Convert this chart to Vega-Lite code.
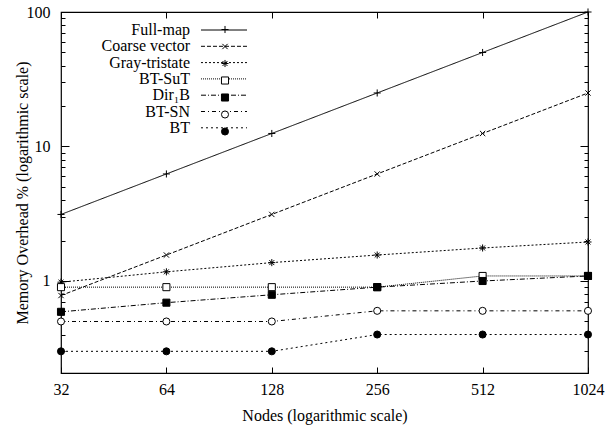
{
  "$schema": "https://vega.github.io/schema/vega-lite/v6.json",
  "width": 527,
  "height": 361,
  "autosize": "none",
  "padding": {"left": 61, "top": 12, "right": 22, "bottom": 55},
  "background": "white",
  "config": {
    "view": {"stroke": "black", "strokeWidth": 1.2},
    "font": "Liberation Serif",
    "axis": {
      "domain": false,
      "grid": false,
      "tickColor": "black",
      "tickWidth": 1,
      "labelFont": "Liberation Serif",
      "labelFontSize": 16,
      "labelColor": "black",
      "labelFlush": false,
      "labelOverlap": false,
      "labelBound": false,
      "titleFont": "Liberation Serif",
      "titleFontSize": 16,
      "titleFontWeight": "normal",
      "titleColor": "black"
    }
  },
  "data": {
    "values": [
      {"nodes": 32, "series": "Full-map", "value": 3.125},
      {"nodes": 64, "series": "Full-map", "value": 6.25},
      {"nodes": 128, "series": "Full-map", "value": 12.5},
      {"nodes": 256, "series": "Full-map", "value": 25},
      {"nodes": 512, "series": "Full-map", "value": 50},
      {"nodes": 1024, "series": "Full-map", "value": 100},
      {"nodes": 32, "series": "Coarse vector", "value": 0.78},
      {"nodes": 64, "series": "Coarse vector", "value": 1.56},
      {"nodes": 128, "series": "Coarse vector", "value": 3.125},
      {"nodes": 256, "series": "Coarse vector", "value": 6.25},
      {"nodes": 512, "series": "Coarse vector", "value": 12.5},
      {"nodes": 1024, "series": "Coarse vector", "value": 25},
      {"nodes": 32, "series": "Gray-tristate", "value": 0.98},
      {"nodes": 64, "series": "Gray-tristate", "value": 1.17},
      {"nodes": 128, "series": "Gray-tristate", "value": 1.37},
      {"nodes": 256, "series": "Gray-tristate", "value": 1.56},
      {"nodes": 512, "series": "Gray-tristate", "value": 1.76},
      {"nodes": 1024, "series": "Gray-tristate", "value": 1.95},
      {"nodes": 32, "series": "BT-SuT", "value": 0.9},
      {"nodes": 64, "series": "BT-SuT", "value": 0.9},
      {"nodes": 128, "series": "BT-SuT", "value": 0.9},
      {"nodes": 256, "series": "BT-SuT", "value": 0.9},
      {"nodes": 512, "series": "BT-SuT", "value": 1.09},
      {"nodes": 1024, "series": "BT-SuT", "value": 1.09},
      {"nodes": 32, "series": "Dir₁B", "value": 0.59},
      {"nodes": 64, "series": "Dir₁B", "value": 0.69},
      {"nodes": 128, "series": "Dir₁B", "value": 0.79},
      {"nodes": 256, "series": "Dir₁B", "value": 0.9},
      {"nodes": 512, "series": "Dir₁B", "value": 1.0},
      {"nodes": 1024, "series": "Dir₁B", "value": 1.09},
      {"nodes": 32, "series": "BT-SN", "value": 0.5},
      {"nodes": 64, "series": "BT-SN", "value": 0.5},
      {"nodes": 128, "series": "BT-SN", "value": 0.5},
      {"nodes": 256, "series": "BT-SN", "value": 0.6},
      {"nodes": 512, "series": "BT-SN", "value": 0.6},
      {"nodes": 1024, "series": "BT-SN", "value": 0.6},
      {"nodes": 32, "series": "BT", "value": 0.3},
      {"nodes": 64, "series": "BT", "value": 0.3},
      {"nodes": 128, "series": "BT", "value": 0.3},
      {"nodes": 256, "series": "BT", "value": 0.4},
      {"nodes": 512, "series": "BT", "value": 0.4},
      {"nodes": 1024, "series": "BT", "value": 0.4}
    ]
  },
  "layer": [
    {
      "mark": {"type": "line", "stroke": "black", "strokeWidth": 1},
      "encoding": {
        "x": {
          "field": "nodes", "type": "quantitative",
          "scale": {"type": "log", "base": 2, "domain": [32, 1024], "nice": false},
          "axis": {"orient": "bottom", "values": [32, 64, 128, 256, 512, 1024], "format": "d", "tickSize": -6, "labelPadding": 14, "title": "Nodes (logarithmic scale)", "titlePadding": 10}
        },
        "y": {
          "field": "value", "type": "quantitative",
          "scale": {"type": "log", "domain": [0.207, 100], "nice": false, "zero": false},
          "axis": {"orient": "left", "values": [1, 10, 100], "format": "~g", "tickSize": -8, "labelPadding": 19, "title": "Memory Overhead % (logarithmic scale)", "titlePadding": -4}
        },
        "strokeDash": {
          "field": "series", "type": "nominal",
          "scale": {
            "domain": ["Full-map", "Coarse vector", "Gray-tristate", "BT-SuT", "Dir₁B", "BT-SN", "BT"],
            "range": [[1, 0], [4, 2], [2, 2], [1, 1], [5, 2, 1, 2], [4, 3, 1, 3], [2, 3]]
          },
          "legend": {
            "orient": "top-left", "offset": 10, "title": null,
            "symbolType": "M-7.667,0L7.667,0", "symbolSize": 36, "symbolStrokeWidth": 1, "symbolStrokeColor": "black", "symbolFillColor": "transparent",
            "symbolOffset": 145,
            "rowPadding": 0.3, "padding": 0,
            "labelAlign": "right", "labelOffset": -42, "labelFont": "Liberation Serif", "labelFontSize": 16, "labelColor": "black", "labelLimit": 0
          }
        }
      }
    },
    {
      "mark": {"type": "point", "stroke": "black", "strokeWidth": 1, "size": 50, "opacity": 1},
      "encoding": {
        "x": {
          "field": "nodes", "type": "quantitative",
          "axis": {"orient": "top", "values": [32, 64, 128, 256, 512, 1024], "labels": false, "tickSize": -6, "title": null}
        },
        "y": {
          "field": "value", "type": "quantitative",
          "axis": {"orient": "right", "values": [1, 10, 100], "labels": false, "tickSize": -8, "title": null}
        },
        "shape": {
          "field": "series", "type": "nominal",
          "sort": ["Full-map", "Coarse vector", "Gray-tristate", "BT-SuT", "Dir₁B", "BT-SN", "BT"],
          "scale": {"range": ["M-1,0L1,0M0,-1L0,1", "M-0.75,-0.75L0.75,0.75M-0.75,0.75L0.75,-0.75", "M-1,0L1,0M0,-1L0,1M-0.7,-0.7L0.7,0.7M-0.7,0.7L0.7,-0.7", "square", "square", "circle", "circle"]},
          "legend": {
            "orient": "none", "legendX": 156, "legendY": 9, "title": null,
            "symbolSize": 50, "symbolStrokeWidth": 1, "symbolStrokeColor": "black",
            "symbolFillColor": {"expr": "scale('fill', datum.value)"},
            "clipHeight": 17, "rowPadding": 0, "padding": 0, "labelOpacity": 0, "labelFontSize": 16
          }
        },
        "fill": {
          "field": "series", "type": "nominal",
          "sort": ["Full-map", "Coarse vector", "Gray-tristate", "BT-SuT", "Dir₁B", "BT-SN", "BT"],
          "scale": {"range": ["white", "white", "white", "white", "black", "white", "black"]},
          "legend": null
        }
      }
    },
    {
      "mark": {"type": "point", "opacity": 0},
      "encoding": {
        "x": {"field": "nodes", "type": "quantitative", "axis": null},
        "y": {
          "field": "value", "type": "quantitative",
          "axis": {"orient": "left", "values": [0.3, 0.4, 0.5, 0.6, 0.7, 0.8, 0.9, 2, 3, 4, 5, 6, 7, 8, 9, 20, 30, 40, 50, 60, 70, 80, 90], "labels": false, "tickSize": -4, "title": null}
        }
      }
    },
    {
      "mark": {"type": "point", "opacity": 0},
      "encoding": {
        "x": {"field": "nodes", "type": "quantitative", "axis": null},
        "y": {
          "field": "value", "type": "quantitative",
          "axis": {"orient": "right", "values": [0.3, 0.4, 0.5, 0.6, 0.7, 0.8, 0.9, 2, 3, 4, 5, 6, 7, 8, 9, 20, 30, 40, 50, 60, 70, 80, 90], "labels": false, "tickSize": -4, "title": null}
        }
      }
    }
  ],
  "resolve": {"axis": {"x": "independent", "y": "independent"}}
}
